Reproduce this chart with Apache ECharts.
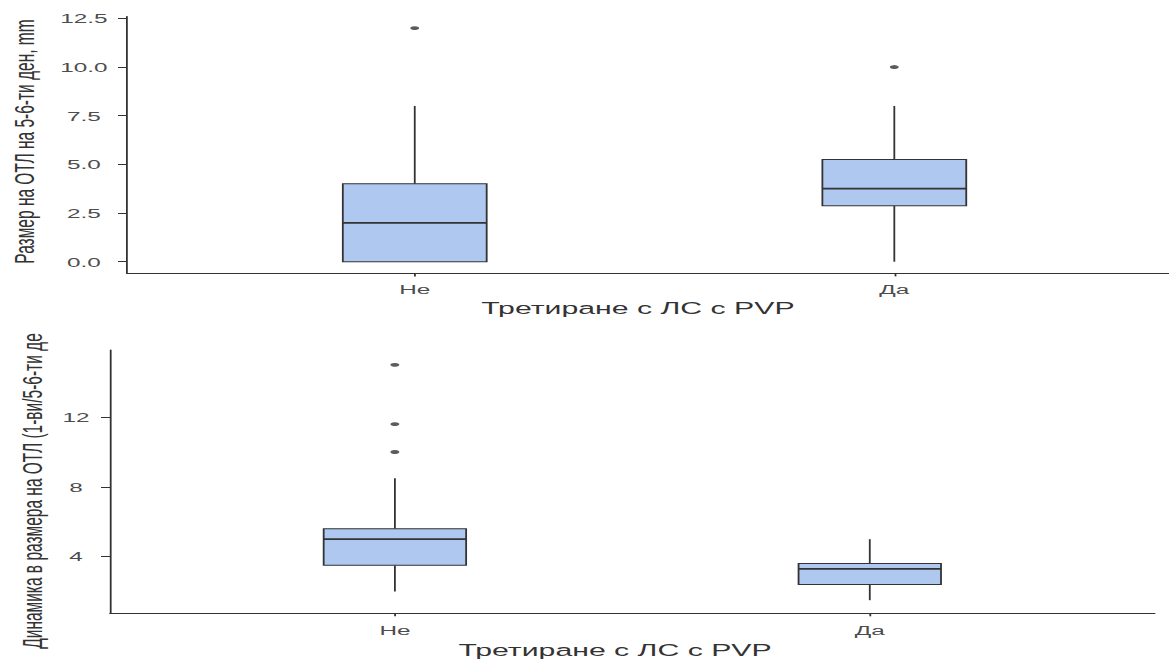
<!DOCTYPE html>
<html><head><meta charset="utf-8">
<script src="https://cdn.jsdelivr.net/npm/echarts@6/dist/echarts.min.js"></script>
<style>
html,body{margin:0;padding:0;overflow:hidden;background:#fff;width:1169px;height:662px;}
#wrap{position:absolute;left:0;top:0;width:700px;height:662px;transform:scaleX(1.8);transform-origin:0 0;}
</style></head><body><div id="wrap"></div>
<script>
// ---- data ----
const categories = ['Не', 'Да'];
// top panel: Размер на ОТЛ на 5-6-ти ден, mm
const sizeMin = [0, 0];
const sizeQ1 = [0, 2.88];
const sizeMedian = [2, 3.75];
const sizeQ3 = [4, 5.25];
const sizeMax = [8, 8];
const sizeOutliers = [[12], [10]];
const sizeTicks = [0, 2.5, 5, 7.5, 10, 12.5];
// bottom panel: Динамика в размера на ОТЛ
const dynMin = [2, 1.5];
const dynQ1 = [3.5, 2.4];
const dynMedian = [5, 3.3];
const dynQ3 = [5.6, 3.6];
const dynMax = [8.5, 5];
const dynOutliers = [[10, 11.6, 15], []];
const dynTicks = [4, 8, 12];

const xTitle = 'Третиране с ЛС с PVP';
const yTitleTop = 'Размер на ОТЛ на 5-6-ти ден, mm';
const yTitleBottom = 'Динамика в размера на ОТЛ (1-ви/5-6-ти де';

// ---- style ----
const FONT = "'Liberation Sans', Arial, sans-serif";
const FILL = '#AEC8F0';
const STROKE = '#333333';
const BOX_W = 0.3;

function boxRows(mn, q1, md, q3, mx) {
  return categories.map((c, i) => [i + 1, mn[i], q1[i], md[i], q3[i], mx[i]]);
}
function outlierRows(out) {
  const r = [];
  out.forEach((arr, i) => arr.forEach(v => r.push([i + 1, v])));
  return r;
}
function renderBox(params, api) {
  const x = api.value(0);
  const half = api.size([BOX_W, 0])[0] / 2;
  const pMin = api.coord([x, api.value(1)]);
  const pQ1 = api.coord([x, api.value(2)]);
  const pMed = api.coord([x, api.value(3)]);
  const pQ3 = api.coord([x, api.value(4)]);
  const pMax = api.coord([x, api.value(5)]);
  const cx = pMed[0];
  return {
    type: 'group',
    children: [
      { type: 'line', shape: { x1: cx, y1: pQ3[1], x2: cx, y2: pMax[1] }, style: { stroke: STROKE, lineWidth: 1 } },
      { type: 'line', shape: { x1: cx, y1: pQ1[1], x2: cx, y2: pMin[1] }, style: { stroke: STROKE, lineWidth: 1 } },
      { type: 'rect', shape: { x: cx - half, y: pQ3[1], width: 2 * half, height: pQ1[1] - pQ3[1] }, style: { fill: FILL, stroke: STROKE, lineWidth: 1 } },
      { type: 'line', shape: { x1: cx - half, y1: pMed[1], x2: cx + half, y2: pMed[1] }, style: { stroke: STROKE, lineWidth: 1.8 } }
    ]
  };
}
function xAxisCfg(gridIndex, margin) {
  return {
    type: 'value', gridIndex, min: 0.4, max: 2.6,
    axisLine: { show: true, onZero: false, lineStyle: { color: STROKE, width: 1 } },
    axisTick: { show: true, length: 3, customValues: [1, 2], lineStyle: { color: STROKE } },
    axisLabel: { customValues: [1, 2], formatter: v => categories[Math.round(v) - 1], color: '#4D4D4D', fontSize: 13.5, fontFamily: FONT, margin },
    splitLine: { show: false }
  };
}
function yAxisCfg(gridIndex, min, max, ticks, fmt, margin) {
  return {
    type: 'value', gridIndex, min, max,
    axisLine: { show: true, onZero: false, lineStyle: { color: STROKE, width: 1 } },
    axisTick: { show: true, length: 5, customValues: ticks, lineStyle: { color: STROKE } },
    axisLabel: { customValues: ticks, formatter: fmt, color: '#4D4D4D', fontSize: 13.5, fontFamily: FONT, align: 'center', margin },
    splitLine: { show: false }
  };
}

const chart = echarts.init(document.getElementById('wrap'), null, { renderer: 'svg' });
chart.setOption({
  animation: false,
  backgroundColor: '#fff',
  grid: [
    { left: 70.56, right: 43.3, top: 16.4, height: 257 },
    { left: 61.1, right: 58.5, top: 350, height: 263.3 }
  ],
  xAxis: [xAxisCfg(0, 9), xAxisCfg(1, 9.5)],
  yAxis: [
    yAxisCfg(0, -0.6, 12.6, sizeTicks, v => v.toFixed(1), 23.9),
    yAxisCfg(1, 0.75, 15.85, dynTicks, v => String(v), 18.9)
  ],
  series: [
    { type: 'custom', xAxisIndex: 0, yAxisIndex: 0, renderItem: renderBox, data: boxRows(sizeMin, sizeQ1, sizeMedian, sizeQ3, sizeMax), encode: { x: 0, y: [1, 2, 3, 4, 5] } },
    { type: 'scatter', xAxisIndex: 0, yAxisIndex: 0, symbol: 'circle', symbolSize: [5, 3.8], itemStyle: { color: STROKE }, data: outlierRows(sizeOutliers) },
    { type: 'custom', xAxisIndex: 1, yAxisIndex: 1, renderItem: renderBox, data: boxRows(dynMin, dynQ1, dynMedian, dynQ3, dynMax), encode: { x: 0, y: [1, 2, 3, 4, 5] } },
    { type: 'scatter', xAxisIndex: 1, yAxisIndex: 1, symbol: 'circle', symbolSize: [5, 3.8], itemStyle: { color: STROKE }, data: outlierRows(dynOutliers) }
  ],
  graphic: [
    { type: 'text', x: 354.4, y: 308, style: { text: xTitle, fontSize: 16.8, fontFamily: FONT, fill: '#333', align: 'center', verticalAlign: 'middle' } },
    { type: 'text', x: 341.7, y: 650, style: { text: xTitle, fontSize: 16.8, fontFamily: FONT, fill: '#333', align: 'center', verticalAlign: 'middle' } },
    { type: 'text', x: 13.6, y: 141.5, rotation: Math.PI / 2, style: { text: yTitleTop, fontSize: 15.5, fontFamily: FONT, fill: '#333', align: 'center', verticalAlign: 'middle' } },
    { type: 'text', x: 18, y: 491, rotation: Math.PI / 2, style: { text: yTitleBottom, fontSize: 15.5, fontFamily: FONT, fill: '#333', align: 'center', verticalAlign: 'middle' } }
  ]
});
</script></body></html>
